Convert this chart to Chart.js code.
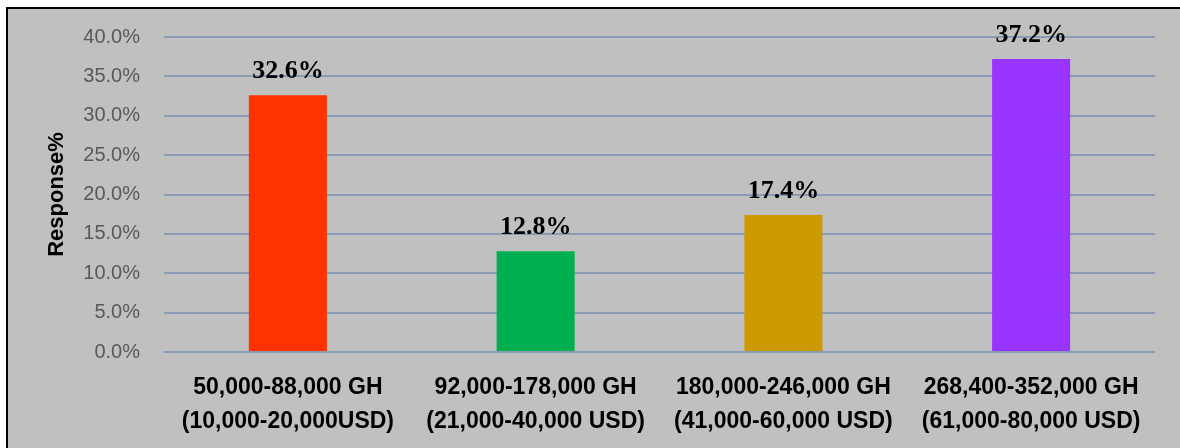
<!DOCTYPE html>
<html>
<head>
<meta charset="utf-8">
<script src="https://cdn.jsdelivr.net/npm/chart.js@4"></script>
<style>
    html, body { margin: 0; padding: 0; background: #ffffff; overflow: hidden; }
    #frame {
        position: absolute;
        left: 6px;
        top: 7px;
        width: 1200px;
        height: 460px;
        background: #c0c0c0;
        border-left: 2px solid #000000;
        border-top: 2px solid #000000;
    }
    #chart { display: block; }
</style>
</head>
<body>
<div id="frame">
    <canvas id="chart" width="1172" height="439"></canvas>
</div>
<script>
// Income bands (two-line tick labels).
const categories = [
    ['50,000-88,000 GH', '(10,000-20,000USD)'],
    ['92,000-178,000 GH', '(21,000-40,000 USD)'],
    ['180,000-246,000 GH', '(41,000-60,000 USD)'],
    ['268,400-352,000 GH', '(61,000-80,000 USD)']
];

// Share of respondents per band, in percent.
const responses = [32.6, 12.8, 17.4, 37.2];

const barColors = ['#ff3300', '#00b050', '#cc9900', '#9933ff'];

// Y axis range and step.
const yTicks = { min: 0, max: 40, step: 5 };

// Draws the value above each bar.
const valueLabels = {
    id: 'valueLabels',
    afterDatasetsDraw(chart) {
        const ctx = chart.ctx;
        const meta = chart.getDatasetMeta(0);
        ctx.save();
        ctx.font = 'bold 26px "Liberation Serif", "Times New Roman", serif';
        ctx.fillStyle = '#000000';
        ctx.textAlign = 'center';
        ctx.textBaseline = 'alphabetic';
        meta.data.forEach((bar, i) => {
            ctx.fillText(responses[i].toFixed(1) + '%', bar.x, bar.y - 17);
        });
        ctx.restore();
    }
};

const chartElement = document.getElementById('chart');

new Chart(chartElement, {
    type: 'bar',
    data: {
        labels: categories,
        datasets: [{
            data: responses,
            backgroundColor: barColors,
            borderWidth: 0,
            barPercentage: 0.315,
            categoryPercentage: 1
        }]
    },
    options: {
        responsive: false,
        animation: false,
        layout: {
            padding: { top: 28, right: 25, bottom: 0, left: 0 }
        },
        plugins: {
            legend: { display: false },
            tooltip: { enabled: false }
        },
        scales: {
            x: {
                grid: { display: false, drawTicks: false },
                border: { display: false },
                ticks: {
                    color: '#000000',
                    padding: 19,
                    maxRotation: 0,
                    autoSkip: false,
                    font: { family: '"Liberation Sans", Arial, sans-serif', size: 23, weight: 'bold', lineHeight: 1.47 }
                },
                afterFit(scale) {
                    scale.height = 96;
                }
            },
            y: {
                min: yTicks.min,
                max: yTicks.max,
                grid: {
                    color: '#8a9bb4',
                    lineWidth: 2,
                    drawTicks: false
                },
                border: { display: false },
                ticks: {
                    stepSize: yTicks.step,
                    color: '#595959',
                    padding: 24,
                    font: { family: '"Liberation Sans", Arial, sans-serif', size: 20 },
                    callback: value => value.toFixed(1) + '%'
                },
                title: {
                    display: true,
                    text: 'Response%',
                    color: '#000000',
                    padding: { top: 36, bottom: 0 },
                    font: { family: '"Liberation Sans", Arial, sans-serif', size: 22, weight: 'bold', lineHeight: 1.2 }
                },
                afterFit(scale) {
                    // fixed axis width, no extra room for the end labels
                    scale.width = 156;
                    scale.paddingTop = 0;
                    scale.paddingBottom = 0;
                }
            }
        }
    },
    plugins: [valueLabels]
});
</script>
</body>
</html>
